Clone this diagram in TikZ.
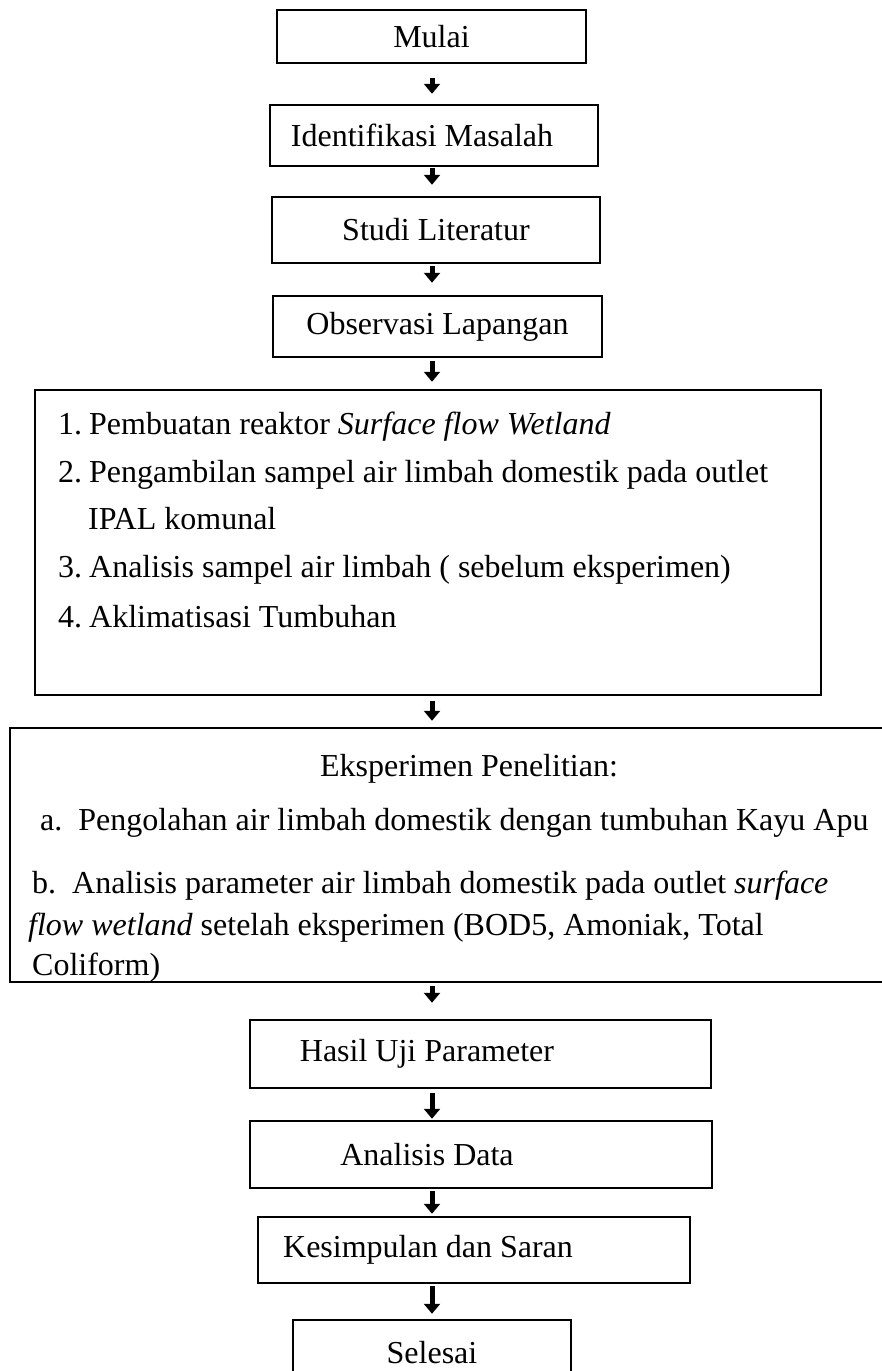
\documentclass[tikz,border=0pt]{standalone}
\usepackage{fontspec}
\setmainfont{Liberation Serif}
\usetikzlibrary{arrows.meta}

\begin{document}
\begin{tikzpicture}[x=1pt, y=-1pt,
		box/.style={draw, line width=2.5pt, inner sep=0pt, font=\fontsize{32}{38}\selectfont},
		txt/.style={anchor=base west, inner sep=0pt, font=\fontsize{32}{38}\selectfont},
		arr/.style={-{Triangle[width=16pt, length=10pt]}, line width=5pt}]
	\useasboundingbox (0, 0) rectangle (882, 1371);
	\clip (0, 0) rectangle (882, 1371);
	\coordinate (axis) at (432, 0);

	\node[box, minimum width=309pt, minimum height=53pt] at (431.5, 36.5) (mulai) {Mulai};
	\node[box, minimum width=328pt, minimum height=61pt] at (434, 135.5) (identifikasi) {Identifikasi Masalah\hspace{24pt}\mbox{}};
	\node[box, minimum width=328pt, minimum height=66pt] at (436, 230) (studi) {Studi Literatur};
	\node[box, minimum width=329pt, minimum height=61pt] at (437.5, 326.5) (observasi) {Observasi Lapangan};

	% tahap persiapan
	\node[box, minimum width=786pt, minimum height=305pt] at (428, 542.5) (persiapan) {};
	\node[txt] at (58, 434) (p1) {1.\hspace{7pt}Pembuatan reaktor \textit{Surface flow Wetland}};
	\node[txt] at (58, 482) (p2) {2.\hspace{7pt}Pengambilan sampel air limbah domestik pada outlet};
	\node[txt] at (88, 529) (p2b) {IPAL komunal};
	\node[txt] at (58, 577) (p3) {3.\hspace{7pt}Analisis sampel air limbah ( sebelum eksperimen)};
	\node[txt] at (58, 627) (p4) {4.\hspace{7pt}Aklimatisasi Tumbuhan};

	% eksperimen
	\node[box, minimum width=918pt, minimum height=254pt] at (469, 855) (eksperimen) {};
	\node[txt, anchor=base] at (469, 776) (e0) {Eksperimen Penelitian:};
	\node[txt] at (40, 830) (ea) {a.\ \ Pengolahan air limbah domestik dengan tumbuhan Kayu Apu};
	\node[txt] at (32, 893) (eb) {b.\ \ Analisis parameter air limbah domestik pada outlet \textit{surface}};
	\node[txt] at (28, 935) (eb2) {\textit{flow wetland} setelah eksperimen (BOD5, Amoniak, Total};
	\node[txt] at (32, 975) (eb3) {Coliform)};

	\node[box, minimum width=461pt, minimum height=68pt] at (480.5, 1054) (hasil) {Hasil Uji Parameter\hspace{107pt}\mbox{}};
	\node[box, minimum width=462pt, minimum height=67pt] at (481, 1154.5) (analisis) {Analisis Data\hspace{108pt}\mbox{}};
	\node[box, minimum width=432pt, minimum height=66pt] at (474, 1250) (kesimpulan) {Kesimpulan dan Saran\hspace{92pt}\mbox{}};
	\node[box, minimum width=278pt, minimum height=66pt] at (432, 1353) (selesai) {Selesai};

	\draw[arr, shorten <=14pt, shorten >=10pt] (mulai.south -| axis) -- (identifikasi.north -| axis);
	\draw[arr, shorten <=1pt, shorten >=11pt] (identifikasi.south -| axis) -- (studi.north -| axis);
	\draw[arr, shorten <=2pt, shorten >=12pt] (studi.south -| axis) -- (observasi.north -| axis);
	\draw[arr, shorten <=3pt, shorten >=7pt] (observasi.south -| axis) -- (persiapan.north -| axis);
	\draw[arr, shorten <=5pt, shorten >=6pt] (persiapan.south -| axis) -- (eksperimen.north -| axis);
	\draw[arr, shorten <=3pt, shorten >=16pt] (eksperimen.south -| axis) -- (hasil.north -| axis);
	\draw[arr, shorten <=4pt, shorten >=1pt] (hasil.south -| axis) -- (analisis.north -| axis);
	\draw[arr, shorten <=2pt, shorten >=2pt] (analisis.south -| axis) -- (kesimpulan.north -| axis);
	\draw[arr, shorten <=2pt, shorten >=5pt] (kesimpulan.south -| axis) -- (selesai.north -| axis);
\end{tikzpicture}
\end{document}
